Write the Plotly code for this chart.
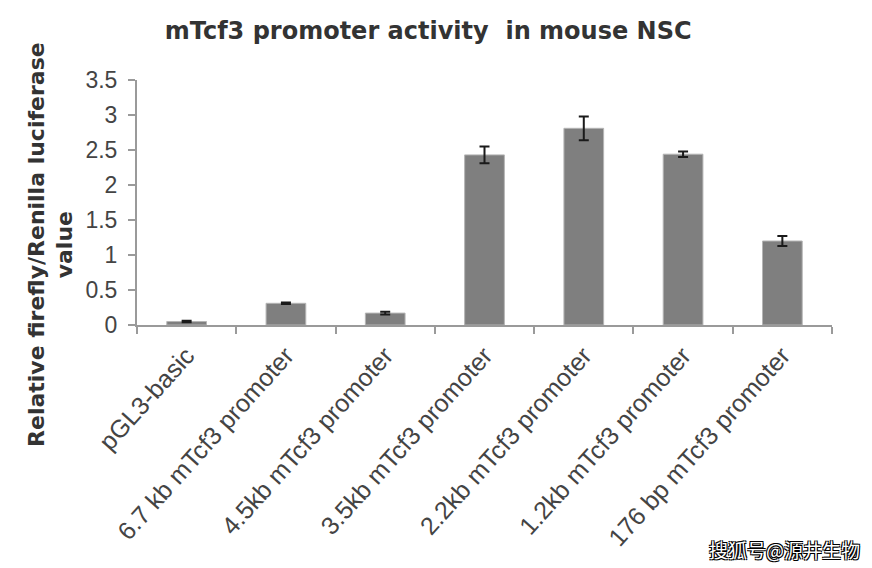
import plotly.graph_objects as go

categories = ["pGL3-basic", "6.7 kb mTcf3 promoter", "4.5kb mTcf3 promoter",
              "3.5kb mTcf3 promoter", "2.2kb mTcf3 promoter", "1.2kb mTcf3 promoter",
              "176 bp mTcf3 promoter"]
values = [0.05, 0.31, 0.17, 2.43, 2.81, 2.44, 1.20]
errors = [0.01, 0.01, 0.02, 0.12, 0.17, 0.04, 0.07]
y_ticks = [0, 0.5, 1, 1.5, 2, 2.5, 3, 3.5]
y_tick_labels = ["0", "0.5", "1", "1.5", "2", "2.5", "3", "3.5"]

fig = go.Figure()
fig.add_trace(go.Bar(
    x=categories, y=values, width=0.4,
    marker=dict(color="#7f7f7f", line=dict(color="#b5b5b5", width=1)),
    error_y=dict(type="data", array=errors, visible=True, color="#1a1a1a",
                 thickness=2, width=5),
))

fig.update_layout(
    width=872, height=568,
    margin=dict(l=137, r=40, t=80, b=243),
    paper_bgcolor="white", plot_bgcolor="white",
    showlegend=False,
    title=dict(text="mTcf3 promoter activity  in mouse NSC",
               x=0.491, xanchor="center", y=0.947, yanchor="middle",
               font=dict(family="DejaVu Sans", size=24, color="#333333", weight="bold")),
    font=dict(family="Liberation Sans", color="#444444"),
)
fig.update_xaxes(
    type="category", tickson="boundaries", ticks="outside", ticklen=7,
    tickwidth=2, tickcolor="#9a9a9a", showline=True, linecolor="#9a9a9a",
    linewidth=2, tickangle=-48, tickfont=dict(size=25, color="#444444"),
    ticklabelstandoff=4, showgrid=False,
)
fig.update_yaxes(
    range=[0, 3.5], tickvals=y_ticks, ticktext=y_tick_labels,
    ticks="outside", ticklen=7, tickwidth=2, tickcolor="#9a9a9a",
    showline=True, linecolor="#9a9a9a", linewidth=2, showgrid=False,
    zeroline=False, tickfont=dict(size=23, color="#444444"),
    ticklabelstandoff=6,
)
fig.add_annotation(
    text="Relative firefly/Renilla luciferase<br>value",
    xref="paper", yref="paper", x=-0.124, y=0.33,
    xanchor="center", yanchor="middle", textangle=-90, showarrow=False,
    font=dict(family="DejaVu Sans", size=22, color="#333333", weight="bold"),
)
fig.add_annotation(
    text="搜狐号@源井生物",
    xref="paper", yref="paper", x=1.043, y=-0.918,
    xanchor="right", yanchor="middle", showarrow=False,
    font=dict(family="Noto Sans CJK SC", size=19, color="white",
              shadow="-1px -1px 0 #000, 1px -1px 0 #000, -1px 1px 0 #000, 1px 1px 0 #000"),
)
fig.write_html("out.html")
